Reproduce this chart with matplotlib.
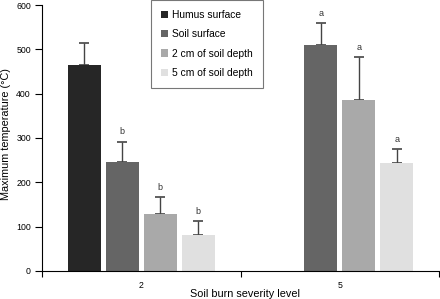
import numpy as np
import matplotlib.pyplot as plt

plt.rcParams['font.family'] = ['Liberation Sans', 'DejaVu Sans']

# data
levels = ['2', '5']
series = ['Humus surface', 'Soil surface', '2 cm of soil depth', '5 cm of soil depth']
colors = ['#262626', '#656565', '#a9a9a9', '#e0e0e0']
means = [[465, 0], [245, 511], [128, 385], [80, 244]]
errs = [[50, 0], [47, 48], [38, 98], [33, 31]]
letters = [['', ''], ['b', 'a'], ['b', 'a'], ['b', 'a']]
present = [[True, False], [True, True], [True, True], [True, True]]

fig = plt.figure(figsize=(4.4, 2.99), dpi=100)
ax = fig.add_axes([0.0955, 0.094, 0.9025, 0.889])

x = np.arange(len(levels))
w = 0.166
step = 0.1915
for i in range(len(series)):
    off = (i - 1.5) * step
    xs = x + off
    m = np.array(means[i], dtype=float)
    e = np.array(errs[i], dtype=float)
    ok = np.array(present[i])
    ax.bar(xs[ok], m[ok], width=w, color=colors[i], label=series[i], zorder=2)
    ax.errorbar(xs[ok], m[ok], yerr=[np.zeros(ok.sum()), e[ok]], fmt='none',
                ecolor='#444444', elinewidth=1.0, capsize=3.5, capthick=1.2, zorder=1)
    for j in range(len(levels)):
        if ok[j] and letters[i][j]:
            ax.text(xs[j], m[j] + e[j] + 12, letters[i][j], ha='center', va='bottom',
                    fontsize=6.5, color='#333333')

ax.set_xlim(-0.5, 1.5)
ax.set_ylim(0, 600)
ax.set_xticks([-0.5, 0.5, 1.5])
ax.set_xticklabels([])
ax.set_xticks(x, minor=True)
ax.set_xticklabels(levels, minor=True)
ax.tick_params(axis='x', which='minor', length=0, pad=7, labelsize=6.3)
ax.tick_params(axis='x', which='major', length=4, direction='out')
ax.set_yticks([0, 100, 200, 300, 400, 500, 600])
ax.tick_params(axis='y', labelsize=6.3, length=5, pad=3)
for s in ['top', 'right']:
    ax.spines[s].set_visible(False)

ax.set_xlabel('Soil burn severity level', fontsize=7.8)
ax.xaxis.label.set_va('baseline')
ax.xaxis.set_label_coords(0.511, -0.0977)
ax.set_ylabel('Maximum temperature (°C)', fontsize=7.8)
ax.yaxis.label.set_va('center')
ax.yaxis.set_label_coords(-0.0907, 0.515)

leg = ax.legend(loc='upper left', bbox_to_anchor=(151 / 440, 1.0), bbox_transform=fig.transFigure,
                fontsize=7.4, frameon=True, fancybox=False, edgecolor='#555555',
                handlelength=0.7, handleheight=0.7, handletextpad=0.4, labelspacing=0.92,
                borderpad=0.95, borderaxespad=0)
leg.get_frame().set_linewidth(0.8)

fig.savefig('out.png', dpi=100)
